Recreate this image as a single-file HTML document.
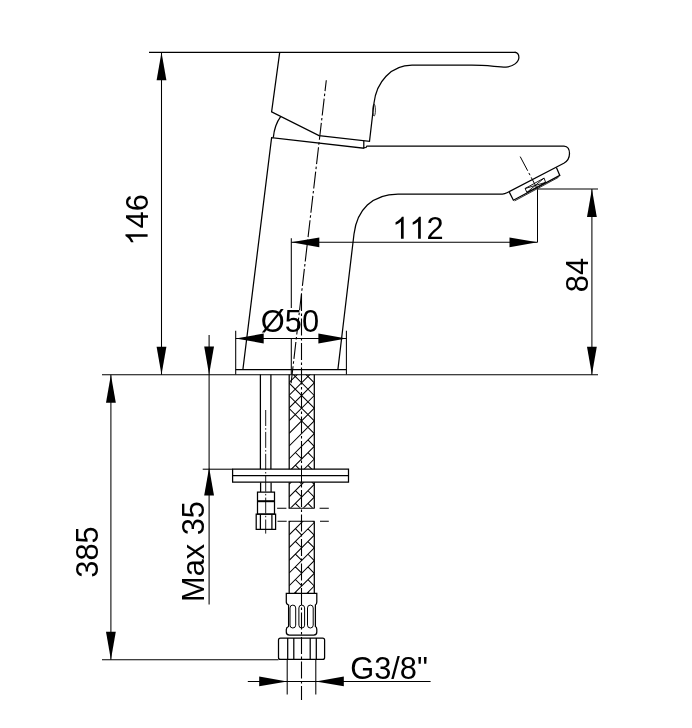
<!DOCTYPE html>
<html><head><meta charset="utf-8"><style>
html,body{margin:0;padding:0;background:#fff;width:692px;height:728px;overflow:hidden}
svg{display:block;will-change:transform}
</style></head><body>
<svg width="692" height="728" viewBox="0 0 692 728">
<path d="M149,52.3 L516,52.3" stroke="#000" stroke-width="1.35" fill="none"/>
<path d="M161.5,52.3 L161.5,374.8" stroke="#000" stroke-width="1.05" fill="none"/>
<path d="M161.5,52.3 L166.4,80.3 L156.6,80.3 Z" fill="#000"/>
<path d="M161.5,374.8 L156.6,346.8 L166.4,346.8 Z" fill="#000"/>
<path d="M102,374.8 L598,374.8" stroke="#000" stroke-width="1.05" fill="none"/>
<path d="M538,189.0 L598,189.0" stroke="#000" stroke-width="1.05" fill="none"/>
<path d="M591.9,189.0 L591.9,374.8" stroke="#000" stroke-width="1.05" fill="none"/>
<path d="M591.9,189.0 L596.8,217.0 L587.0,217.0 Z" fill="#000"/>
<path d="M591.9,374.8 L587.0,346.8 L596.8,346.8 Z" fill="#000"/>
<path d="M291.3,238.3 L291.3,308" stroke="#000" stroke-width="1.05" fill="none"/>
<path d="M291.3,338.5 L291.3,374.6" stroke="#000" stroke-width="1.05" fill="none"/>
<path d="M537.5,189.2 L537.5,242.3" stroke="#000" stroke-width="1.05" fill="none"/>
<path d="M291.3,242.3 L537.5,242.3" stroke="#000" stroke-width="1.05" fill="none"/>
<path d="M291.3,242.3 L319.3,237.4 L319.3,247.2 Z" fill="#000"/>
<path d="M537.5,242.3 L509.5,247.2 L509.5,237.4 Z" fill="#000"/>
<path d="M235.7,330.8 L235.7,374.6" stroke="#000" stroke-width="1.05" fill="none"/>
<path d="M346.4,330.8 L346.4,374.6" stroke="#000" stroke-width="1.05" fill="none"/>
<path d="M235.7,338.5 L346.4,338.5" stroke="#000" stroke-width="1.05" fill="none"/>
<path d="M235.7,338.5 L263.7,333.6 L263.7,343.4 Z" fill="#000"/>
<path d="M346.4,338.5 L318.4,343.4 L318.4,333.6 Z" fill="#000"/>
<path d="M209.1,334.9 L209.1,604.5" stroke="#000" stroke-width="1.05" fill="none"/>
<path d="M209.1,374.6 L204.2,346.6 L214.0,346.6 Z" fill="#000"/>
<path d="M209.1,467.5 L214.0,495.5 L204.2,495.5 Z" fill="#000"/>
<path d="M202.7,469.2 L232.6,469.2" stroke="#000" stroke-width="1.05" fill="none"/>
<path d="M110.9,374.8 L110.9,659.8" stroke="#000" stroke-width="1.05" fill="none"/>
<path d="M110.9,374.8 L115.8,402.8 L106.0,402.8 Z" fill="#000"/>
<path d="M110.9,659.8 L106.0,631.8 L115.8,631.8 Z" fill="#000"/>
<path d="M102,659.8 L278.5,659.8" stroke="#000" stroke-width="1.05" fill="none"/>
<path d="M287.2,659.5 L287.2,694.4" stroke="#000" stroke-width="1.05" fill="none"/>
<path d="M315.8,659.5 L315.8,694.4" stroke="#000" stroke-width="1.05" fill="none"/>
<path d="M247.8,681.4 L430.6,681.4" stroke="#000" stroke-width="1.05" fill="none"/>
<path d="M287.2,681.4 L259.2,686.3 L259.2,676.5 Z" fill="#000"/>
<path d="M315.8,681.4 L343.8,676.5 L343.8,686.3 Z" fill="#000"/>
<path d="M279.7,52.3 L271.6,111.8 L319,135.6 L369.5,141.3 L374,103 C376.5,82 391,65.2 412,65.2 H470 C484,65 494,66.5 506,67.1 C513,66.8 518.9,62 518.9,57.5 C518.9,54.5 517.5,52.3 514.5,52.3" stroke="#000" stroke-width="1.25" fill="none"/>
<path d="M280.8,116.4 Q274.5,125 273.3,137.6" stroke="#000" stroke-width="1.25" fill="none"/>
<ellipse cx="374.1" cy="110.1" rx="1.3" ry="6" stroke="#000" stroke-width="0.8" fill="none"/>
<path d="M242.9,369.5 L271.6,137.6 L363.8,148.2 V140.8" stroke="#000" stroke-width="1.25" fill="none"/>
<path d="M363.8,147.6 h2.6 v-1.6" stroke="#000" stroke-width="1.0" fill="none"/>
<path d="M366.4,146 H564 C568,146 569.5,150 569.5,153.5 C569.5,158 567,161.5 563.8,163.3 L507,192.8 C505.5,193.6 504,194 502.4,194 H398 C372,194 356.9,210 354,234 L337.9,369.5" stroke="#000" stroke-width="1.25" fill="none"/>
<path d="M556.4,167.6 L559.8,175.4 L513.4,200.2 L509.3,192.1" stroke="#000" stroke-width="1.25" fill="none"/>
<path d="M558.5,177.3 L514.6,200.9" stroke="#000" stroke-width="0.8" fill="none"/>
<path d="M525.1,188.5 L544.1,178.1 L545.6,182.4 L526.9,192.4 Z M525.1,188.5 L545.6,182.4 M544.1,178.1 L526.9,192.4" stroke="#000" stroke-width="0.9" fill="none"/>
<path d="M520.2,156.6 L537.4,189.1" stroke="#000" stroke-width="1.0" fill="none" stroke-dasharray="16 2.5 2.5 2.5"/>
<path d="M235.7,369.5 H346.4" stroke="#000" stroke-width="1.25" fill="none"/>
<path d="M326.3,80.2 L291,384" stroke="#000" stroke-width="1.1" fill="none" stroke-dasharray="17 2.5 2.5 2.5" stroke-dashoffset="6"/>
<path d="M260.4,374.6 V469.2 M270.9,374.6 V469.2 M260.6,482.2 V492 M271.1,482.2 V492" stroke="#000" stroke-width="1.25" fill="none"/>
<path d="M257.5,492 H274.5 V514.2 H257.5 Z" stroke="#000" stroke-width="1.25" fill="none"/>
<path d="M257.5,501.2 H274.5" stroke="#000" stroke-width="2" fill="none"/>
<path d="M256.2,514.2 H275.6 V529.4 H256.2 Z M260.4,514.2 V529.4 M271.9,514.2 V529.4" stroke="#000" stroke-width="1.25" fill="none"/>
<defs><clipPath id="h1"><rect x="289.2" y="374.6" width="25.1" height="133.1"/></clipPath><clipPath id="h2"><rect x="289.2" y="521.2" width="25.1" height="71.8"/></clipPath></defs>
<path d="M314.3,332.00 L289.2,357.10 M289.2,306.90 L314.3,332.00 M314.3,344.70 L289.2,369.80 M289.2,319.60 L314.3,344.70 M314.3,357.40 L289.2,382.50 M289.2,332.30 L314.3,357.40 M314.3,370.10 L289.2,395.20 M289.2,345.00 L314.3,370.10 M314.3,382.80 L289.2,407.90 M289.2,357.70 L314.3,382.80 M314.3,395.50 L289.2,420.60 M289.2,370.40 L314.3,395.50 M314.3,408.20 L289.2,433.30 M289.2,383.10 L314.3,408.20 M314.3,420.90 L289.2,446.00 M289.2,395.80 L314.3,420.90 M314.3,433.60 L289.2,458.70 M289.2,408.50 L314.3,433.60 M314.3,446.30 L289.2,471.40 M295.40,452.50 L301.75,458.85 M307.95,439.95 L314.3,446.30 M314.3,459.00 L289.2,484.10 M295.40,465.20 L301.75,471.55 M307.95,452.65 L314.3,459.00 M314.3,471.70 L289.2,496.80 M295.40,477.90 L301.75,484.25 M307.95,465.35 L314.3,471.70 M314.3,484.40 L289.2,509.50 M295.40,490.60 L301.75,496.95 M307.95,478.05 L314.3,484.40 M314.3,497.10 L289.2,522.20 M295.40,503.30 L301.75,509.65 M307.95,490.75 L314.3,497.10 M314.3,509.80 L289.2,534.90 M295.40,516.00 L301.75,522.35 M307.95,503.45 L314.3,509.80 M314.3,522.50 L289.2,547.60 M295.40,528.70 L301.75,535.05 M307.95,516.15 L314.3,522.50 M314.3,535.20 L289.2,560.30 M295.40,541.40 L301.75,547.75 M307.95,528.85 L314.3,535.20" stroke="#000" stroke-width="1.05" fill="none" clip-path="url(#h1)"/>
<path d="M314.3,471.70 L289.2,496.80 M295.40,477.90 L301.75,484.25 M307.95,465.35 L314.3,471.70 M314.3,484.40 L289.2,509.50 M295.40,490.60 L301.75,496.95 M307.95,478.05 L314.3,484.40 M314.3,497.10 L289.2,522.20 M295.40,503.30 L301.75,509.65 M307.95,490.75 L314.3,497.10 M314.3,509.80 L289.2,534.90 M295.40,516.00 L301.75,522.35 M307.95,503.45 L314.3,509.80 M314.3,522.50 L289.2,547.60 M295.40,528.70 L301.75,535.05 M307.95,516.15 L314.3,522.50 M314.3,535.20 L289.2,560.30 M295.40,541.40 L301.75,547.75 M307.95,528.85 L314.3,535.20 M314.3,547.90 L289.2,573.00 M295.40,554.10 L301.75,560.45 M307.95,541.55 L314.3,547.90 M314.3,560.60 L289.2,585.70 M295.40,566.80 L301.75,573.15 M307.95,554.25 L314.3,560.60 M314.3,573.30 L289.2,598.40 M295.40,579.50 L301.75,585.85 M307.95,566.95 L314.3,573.30 M314.3,586.00 L289.2,611.10 M295.40,592.20 L301.75,598.55 M307.95,579.65 L314.3,586.00 M314.3,598.70 L289.2,623.80 M295.40,604.90 L301.75,611.25 M307.95,592.35 L314.3,598.70 M314.3,611.40 L289.2,636.50 M295.40,617.60 L301.75,623.95 M307.95,605.05 L314.3,611.40" stroke="#000" stroke-width="1.05" fill="none" clip-path="url(#h2)"/>
<path d="M289.2,374.6 V508.3 M314.3,374.6 V508.3 M289.2,521.2 V593 M314.3,521.2 V593" stroke="#000" stroke-width="1.25" fill="none"/>
<path d="M301.5,294 V700" stroke="#000" stroke-width="1.1" fill="none" stroke-dasharray="17 2.5 2.5 2.5"/>
<path d="M277.1,508.3 H286.4 M288.6,508.3 H314.6 M319.6,508.3 H328.8 M277.5,521.2 H286.7 M288.6,521.2 H314.6 M320,521.2 H328.8" stroke="#000" stroke-width="1.1" fill="none"/>
<path d="M232.6,469.2 H348.5 V482.2 H232.6 Z" stroke="#000" stroke-width="1.25" fill="#fff"/>
<path d="M232.6,475.5 H348.5" stroke="#000" stroke-width="1.25" fill="none"/>
<path d="M301.5,469 V483" stroke="#000" stroke-width="1.0" fill="none"/>
<path d="M265.7,410 V533.6" stroke="#000" stroke-width="0.9" fill="none" stroke-dasharray="16 2.2 1.5 2.2"/>
<path d="M286.3,593.4 H316.8 V602 Q316.8,604.4 315.4,605 V626.5 Q316.8,627.2 316.8,629.5 V632 Q316.8,635.1 313.7,635.1 H289.4 Q286.3,635.1 286.3,632 V629.5 Q286.3,627.2 288.6,626.5 V605 Q286.3,604.4 286.3,602 Z" stroke="#000" stroke-width="1.25" fill="none"/>
<rect x="290.0" y="605.1" width="5.7" height="22.9" rx="2.85" stroke="#000" stroke-width="1.0" fill="none"/>
<rect x="298.9" y="605.1" width="5.7" height="22.9" rx="2.85" stroke="#000" stroke-width="1.0" fill="none"/>
<rect x="307.5" y="605.1" width="5.7" height="22.9" rx="2.85" stroke="#000" stroke-width="1.0" fill="none"/>
<path d="M280.5,638.1 H322.6 Q324.6,638.1 324.6,640.1 V657.4 Q324.6,659.4 322.6,659.4 H280.5 Q278.5,659.4 278.5,657.4 V640.1 Q278.5,638.1 280.5,638.1 Z M287.7,638.1 V659.4 M293.8,638.1 V659.4 M310.2,638.1 V659.4 M316.3,638.1 V659.4" stroke="#000" stroke-width="1.25" fill="none"/>
<g transform="translate(392.20,238.80) scale(0.1)"><path transform="translate(0.0,0) scale(0.150391,-0.150391)" d="M763,0 H583 V1147 Q518,1085 412.5,1023 T223,930 V1104 Q373,1175 485.5,1276 T645,1472 H763 Z" fill="#000"/><path transform="translate(171.3,0) scale(0.150391,-0.150391)" d="M763,0 H583 V1147 Q518,1085 412.5,1023 T223,930 V1104 Q373,1175 485.5,1276 T645,1472 H763 Z" fill="#000"/><text x="342.6" y="0" font-size="308.0" font-family="Liberation Sans, sans-serif" fill="#000" xml:space="preserve">2</text></g>
<g transform="translate(147.60,245.60) rotate(-90) scale(0.1)"><path transform="translate(0.0,0) scale(0.150391,-0.150391)" d="M763,0 H583 V1147 Q518,1085 412.5,1023 T223,930 V1104 Q373,1175 485.5,1276 T645,1472 H763 Z" fill="#000"/><text x="171.3" y="0" font-size="308.0" font-family="Liberation Sans, sans-serif" fill="#000" xml:space="preserve">46</text></g>
<g transform="translate(588.10,292.20) rotate(-90) scale(0.1)"><text x="0.0" y="0" font-size="308.0" font-family="Liberation Sans, sans-serif" fill="#000" xml:space="preserve">84</text></g>
<g transform="translate(97.90,577.70) rotate(-90) scale(0.1)"><text x="0.0" y="0" font-size="308.0" font-family="Liberation Sans, sans-serif" fill="#000" xml:space="preserve">385</text></g>
<g transform="translate(204.20,602.00) rotate(-90) scale(0.1)"><text x="0.0" y="0" font-size="308.0" font-family="Liberation Sans, sans-serif" fill="#000" xml:space="preserve">Max 35</text></g>
<g transform="translate(260.80,331.50) scale(0.1)"><text x="0.0" y="0" font-size="308.0" font-family="Liberation Sans, sans-serif" fill="#000" xml:space="preserve">Ø50</text></g>
<g transform="translate(350.20,678.60) scale(0.1)"><text x="0.0" y="0" font-size="308.0" font-family="Liberation Sans, sans-serif" fill="#000" xml:space="preserve">G3/8"</text></g>
</svg>
</body></html>
